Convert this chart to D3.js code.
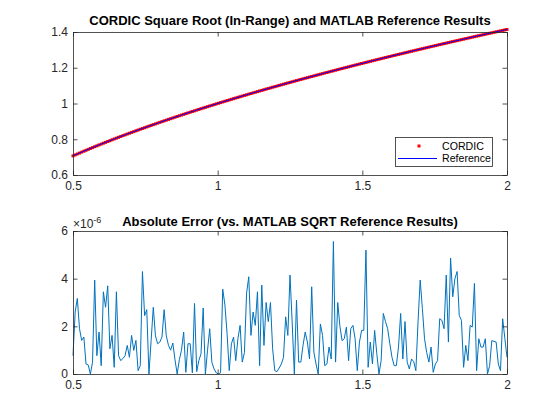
<!DOCTYPE html>
<html><head><meta charset="utf-8">
<script src="https://cdn.jsdelivr.net/npm/d3@7"></script>
<style>body{margin:0;background:#fff}svg{display:block}</style>
</head><body><svg id="c" width="560" height="420"></svg>
<script>
const xStart = 0.5, xEnd = 2;
const referenceValues = [
0.7071,0.7124,0.7176,0.7228,0.7280,0.7331,0.7382,0.7433,0.7483,0.7533,0.7583,0.7632,0.7681,0.7730,0.7778,0.7826,0.7874,0.7921,0.7969,0.8016,
0.8062,0.8109,0.8155,0.8201,0.8246,0.8292,0.8337,0.8382,0.8426,0.8471,0.8515,0.8559,0.8602,0.8646,0.8689,0.8732,0.8775,0.8818,0.8860,0.8902,
0.8944,0.8986,0.9028,0.9069,0.9110,0.9152,0.9192,0.9233,0.9274,0.9314,0.9354,0.9394,0.9434,0.9474,0.9513,0.9552,0.9592,0.9631,0.9670,0.9708,
0.9747,0.9785,0.9823,0.9862,0.9899,0.9937,0.9975,1.0012,1.0050,1.0087,1.0124,1.0161,1.0198,1.0235,1.0271,1.0308,1.0344,1.0380,1.0416,1.0452,
1.0488,1.0524,1.0559,1.0595,1.0630,1.0665,1.0700,1.0735,1.0770,1.0805,1.0840,1.0874,1.0909,1.0943,1.0977,1.1011,1.1045,1.1079,1.1113,1.1147,
1.1180,1.1214,1.1247,1.1281,1.1314,1.1347,1.1380,1.1413,1.1446,1.1478,1.1511,1.1543,1.1576,1.1608,1.1640,1.1672,1.1705,1.1737,1.1769,1.1800,
1.1832,1.1864,1.1895,1.1927,1.1958,1.1990,1.2021,1.2052,1.2083,1.2114,1.2145,1.2176,1.2207,1.2237,1.2268,1.2298,1.2329,1.2359,1.2390,1.2420,
1.2450,1.2480,1.2510,1.2540,1.2570,1.2600,1.2629,1.2659,1.2689,1.2718,1.2748,1.2777,1.2806,1.2836,1.2865,1.2894,1.2923,1.2952,1.2981,1.3010,
1.3038,1.3067,1.3096,1.3124,1.3153,1.3181,1.3210,1.3238,1.3266,1.3295,1.3323,1.3351,1.3379,1.3407,1.3435,1.3463,1.3491,1.3519,1.3546,1.3574,
1.3601,1.3629,1.3657,1.3684,1.3711,1.3739,1.3766,1.3793,1.3820,1.3847,1.3874,1.3902,1.3928,1.3955,1.3982,1.4009,1.4036,1.4062,1.4089,1.4116,
1.4142];
const cordicValues = referenceValues.slice();
// absolute error, in units of 1e-6
const absErrorE6 = [
0.77,2.6,3.17,1.9,1.41,1.55,0.42,0.38,0.0,0.49,3.94,0.77,1.76,0.35,3.45,2.8,3.7,1.06,1.62,0.28,
3.45,0.77,0.56,0.65,0.77,1.2,0.7,1.62,0.99,1.41,0.14,0.35,4.3,2.45,2.7,0.0,1.4,2.8,1.6,1.27,
1.34,1.55,2.7,1.6,1.2,1.0,1.3,0.6,0.0,0.6,1.0,1.76,0.07,1.27,1.27,0.05,2.96,0.1,0.56,0.85,
2.77,0.0,1.0,1.9,0.49,0.21,0.05,0.0,0.05,3.56,2.9,1.7,0.14,1.27,1.55,0.56,1.48,2.04,0.5,0.9,
3.4,4.08,1.62,2.6,2.04,3.45,0.35,3.73,1.2,3.0,2.2,3.0,1.06,0.14,0.1,0.25,0.42,0.7,2.4,1.62,
4.15,2.18,0.0,3.1,0.5,0.5,1.2,1.76,1.34,0.63,3.66,0.92,0.42,0.0,2.1,1.62,0.35,0.42,1.13,0.63,
5.56,0.5,3.0,2.0,1.4,1.48,1.97,0.56,1.9,2.04,1.48,0.14,1.34,1.83,1.83,5.2,0.28,1.34,0.42,1.83,
0.85,0.0,0.56,2.54,2.2,1.9,1.27,0.7,0.35,0.35,1.13,2.54,0.63,2.2,0.5,0.21,0.63,0.52,0.14,2.18,
3.94,2.75,1.48,0.9,0.5,1.13,0.07,0.42,0.56,2.32,2.25,1.9,4.15,1.34,4.86,3.24,4.0,4.3,2.46,2.25,
0.28,1.2,0.56,2.04,1.97,3.8,0.14,1.48,1.13,1.13,1.48,0.0,0.35,1.4,1.37,1.34,0.42,0.14,2.32,1.5,
0.7];
const xTicks = [0.5, 1, 1.5, 2];
const xTickLabels = ["0.5", "1", "1.5", "2"];
const topYTicks = [0.6, 0.8, 1, 1.2, 1.4];
const topYTickLabels = ["0.6", "0.8", "1", "1.2", "1.4"];
const botYTicks = [0, 2, 4, 6];
const botYTickLabels = ["0", "2", "4", "6"];
const topTitle = "CORDIC Square Root (In-Range) and MATLAB Reference Results";
const botTitle = "Absolute Error (vs. MATLAB SQRT Reference Results)";
const legendLabels = ["CORDIC", "Reference"];

const FONT = "'Liberation Sans', Arial, Helvetica, sans-serif";
const AX = "#262626";
const svg = d3.select("#c");
svg.append("rect").attr("width",560).attr("height",420).attr("fill","#fff");

function xs(n){ return d3.range(n).map(i => xStart + i*(xEnd-xStart)/(n-1)); }

function makeAxes(top, bottom, yDomain, yTicks, yLabels){
  const x = d3.scaleLinear().domain([xStart, xEnd]).range([73, 507]);
  const y = d3.scaleLinear().domain(yDomain).range([bottom, top]);
  const g = svg.append("g");
  const fmtX = (d,i) => xTickLabels[i];
  const fmtY = (d,i) => yLabels[i];
  const style = sel => {
    sel.selectAll("path.domain").attr("stroke", AX).attr("stroke-width", 0.8);
    sel.selectAll(".tick line").attr("stroke", AX).attr("stroke-width", 0.8);
    sel.selectAll("text").attr("fill", AX).style("font-family", FONT).style("font-size", "12px");
  };
  g.append("g").attr("transform",`translate(0,${bottom})`)
    .call(d3.axisBottom(x).tickValues(xTicks).tickFormat(fmtX).tickSizeInner(-4.5).tickSizeOuter(0).tickPadding(6)).call(style);
  g.append("g").attr("transform",`translate(0,${top})`)
    .call(d3.axisTop(x).tickValues(xTicks).tickFormat("").tickSizeInner(-4.5).tickSizeOuter(0)).call(style);
  g.append("g").attr("transform",`translate(73,0)`)
    .call(d3.axisLeft(y).tickValues(yTicks).tickFormat(fmtY).tickSizeInner(-4.5).tickSizeOuter(0).tickPadding(5)).call(style);
  g.append("g").attr("transform",`translate(507,0)`)
    .call(d3.axisRight(y).tickValues(yTicks).tickFormat("").tickSizeInner(-4.5).tickSizeOuter(0)).call(style);
  return {x, y, g};
}

// ---- Top subplot
const T = makeAxes(32, 175, [0.6, 1.4], topYTicks, topYTickLabels);
const xv1 = xs(referenceValues.length);
const plot1 = svg.insert("g", ":first-child + g");
T.g.lower(); svg.select("rect").lower();
const clip1 = svg.append("defs").append("clipPath").attr("id","cp1").append("rect").attr("x",73).attr("y",32).attr("width",434).attr("height",143);
const p1 = svg.append("g");
p1.selectAll("rect.pt").data(cordicValues).join("rect").attr("class","pt")
  .attr("x",(d,i)=>T.x(xv1[i])-1.5).attr("y",d=>T.y(d)-1.5).attr("width",3).attr("height",3).attr("fill","#ff0000");
p1.append("path").datum(referenceValues)
  .attr("d", d3.line().x((d,i)=>T.x(xv1[i])).y(d=>T.y(d)))
  .attr("fill","none").attr("stroke","#0000ff").attr("stroke-width",1);
T.g.raise();

svg.append("text").attr("x",290).attr("y",25).attr("text-anchor","middle")
  .style("font-family",FONT).style("font-size","13px").style("font-weight","bold").attr("fill","#000").text(topTitle);

// legend
const lg = svg.append("g");
lg.append("rect").attr("x",395.5).attr("y",137.5).attr("width",97).attr("height",29).attr("fill","#fff").attr("stroke",AX).attr("stroke-width",0.8);
lg.append("rect").attr("x",417.5).attr("y",144.5).attr("width",3).attr("height",3).attr("fill","#ff0000");
lg.append("line").attr("x1",398).attr("x2",437).attr("y1",158.5).attr("y2",158.5).attr("stroke","#0000ff").attr("stroke-width",1);
lg.selectAll("text").data(legendLabels).join("text")
  .attr("x",442).attr("y",(d,i)=>150+i*12).style("font-family",FONT).style("font-size","10.6px").attr("fill","#000").text(d=>d);

// ---- Bottom subplot
const B = makeAxes(231, 374, [0, 6], botYTicks, botYTickLabels);
const xv2 = xs(absErrorE6.length);
svg.append("path").datum(absErrorE6)
  .attr("d", d3.line().x((d,i)=>B.x(xv2[i])).y(d=>B.y(d)))
  .attr("fill","none").attr("stroke","#0072BD").attr("stroke-width",1);
B.g.raise();

const ex = svg.append("text").attr("x",73).attr("y",228).style("font-family",FONT).style("font-size","12px").attr("fill",AX);
ex.append("tspan").text("\u00d710");
ex.append("tspan").attr("dy",-5).style("font-size","9px").text("-6");

svg.append("text").attr("x",290).attr("y",226).attr("text-anchor","middle")
  .style("font-family",FONT).style("font-size","13px").style("font-weight","bold").attr("fill","#000").text(botTitle);
</script></body></html>
